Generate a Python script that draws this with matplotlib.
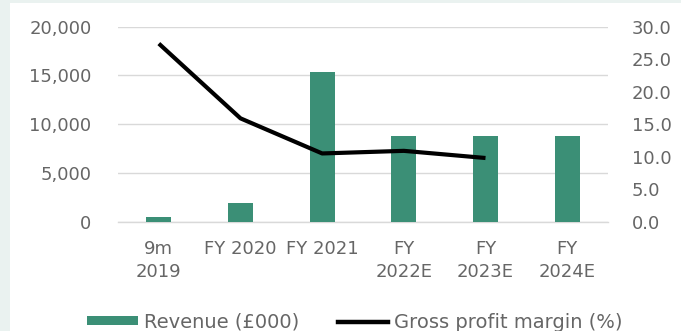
import matplotlib
matplotlib.use("Agg")
import matplotlib.pyplot as plt
from matplotlib.patches import Rectangle
from matplotlib.lines import Line2D

categories = ['9m\n2019', 'FY 2020', 'FY 2021', 'FY\n2022E', 'FY\n2023E', 'FY\n2024E']
revenue = [450, 1950, 15400, 8800, 8800, 8800]
margin = [27.4, 15.9, 10.5, 10.9, 9.8]
left_ticks = [0, 5000, 10000, 15000, 20000]
right_ticks = [0, 5, 10, 15, 20, 25, 30]

W, H = 681, 331
fig = plt.figure(figsize=(W/100, H/100), dpi=100, facecolor='#eaf2f0')
bgrect = Rectangle((10/W, 0), 1 - 10/W, 1 - 3/H, transform=fig.transFigure,
                   facecolor='white', edgecolor='none', zorder=-10)
fig.add_artist(bgrect)

txt = '#666666'
fs = 13
green = '#3b8f76'

ax = fig.add_axes([118/W, 1 - 221.7/H, 490/W, 195/H])
ax.set_zorder(1)
ax.set_facecolor('none')
x = list(range(len(categories)))
ax.bar(x, revenue, width=0.31, color=green, zorder=2)
ax.set_xlim(-0.5, len(categories) - 0.5)
ax.set_ylim(0, 20000)
ax.set_yticks(left_ticks)
ax.set_yticklabels([f'{v:,}' for v in left_ticks], color=txt, fontsize=fs)
ax.set_xticks(x)
ax.set_xticklabels(categories, color=txt, fontsize=fs, linespacing=1.4)
ax.grid(axis='y', color='#d9d9d9', linewidth=1, zorder=0)
ax.axhline(0, color='#d9d9d9', linewidth=1, zorder=1, clip_on=False)
for s in ax.spines.values():
    s.set_visible(False)
ax.tick_params(axis='y', length=0, pad=19)
ax.tick_params(axis='x', length=0, pad=13)

ax2 = ax.twinx()
ax2.set_zorder(2)
ax2.set_facecolor('none')
ax2.plot(range(len(margin)), margin, color='black', linewidth=3, solid_capstyle='butt', zorder=3)
ax2.set_ylim(0, 30)
ax2.set_yticks(right_ticks)
ax2.set_yticklabels([f'{v:.1f}' for v in right_ticks], color=txt, fontsize=fs)
for s in ax2.spines.values():
    s.set_visible(False)
ax2.tick_params(length=0, pad=17)

handles = [Rectangle((0, 0), 1, 1, facecolor=green, edgecolor='none'),
           Line2D([0], [0], color='black', linewidth=3.2)]
fig.legend(handles, ['Revenue (£000)', 'Gross profit margin (%)'],
           loc='center', bbox_to_anchor=(355/W, 1 - 322/H), ncol=2, frameon=False,
           fontsize=14, labelcolor=txt, handlelength=2.6, handleheight=0.28,
           handletextpad=0.3, columnspacing=2.0)

fig.savefig('out.png', dpi=100, facecolor=fig.get_facecolor())
